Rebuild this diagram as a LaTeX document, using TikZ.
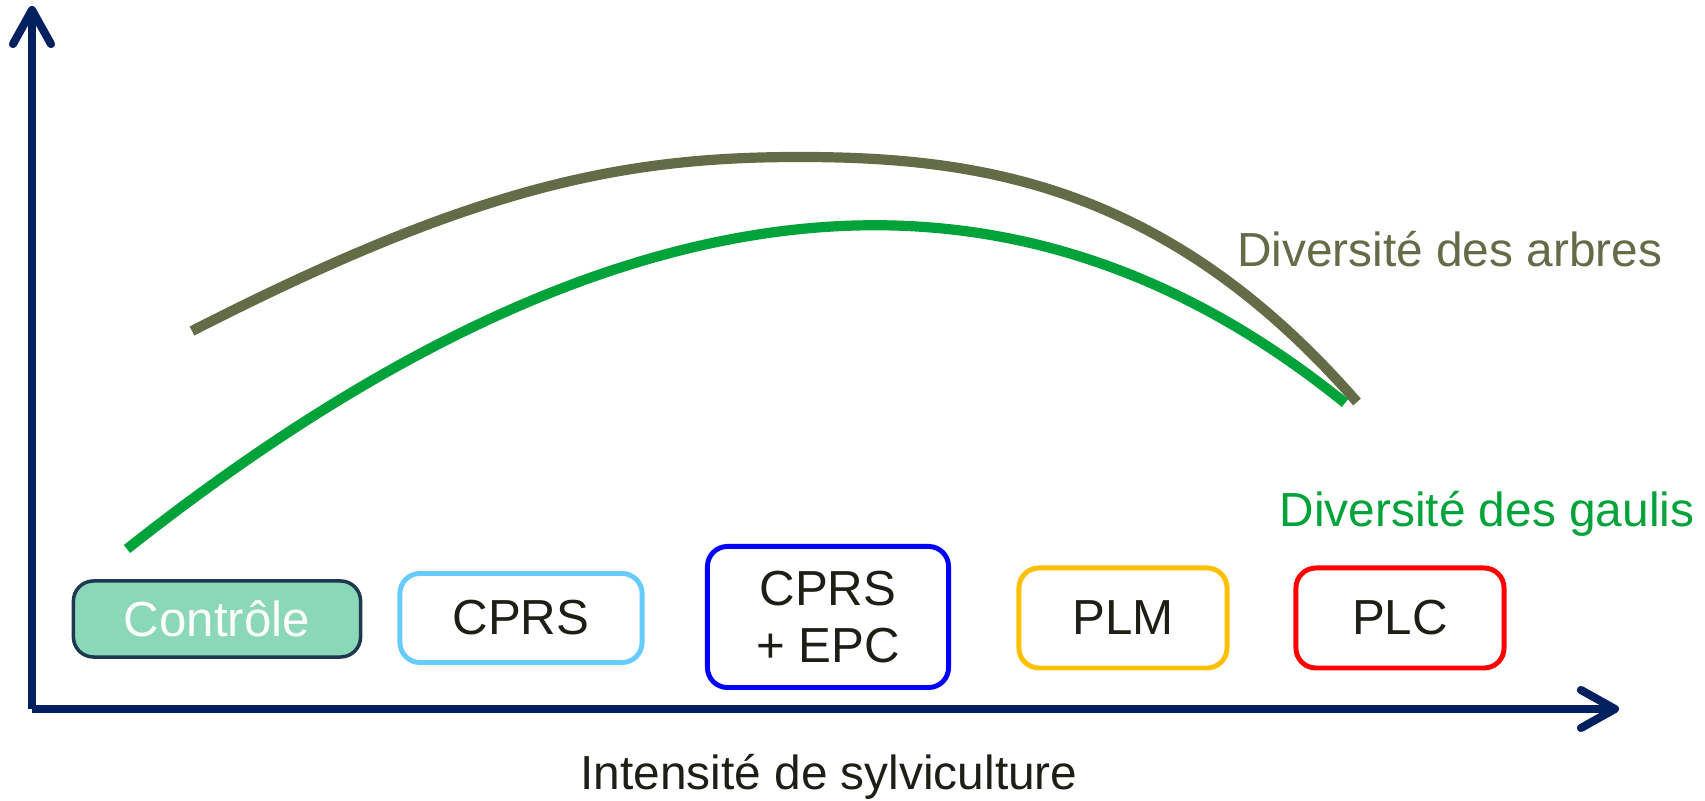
\documentclass[tikz,border=0pt]{standalone}
\usepackage{fontspec}
\setmainfont{Liberation Sans}
\usetikzlibrary{arrows.meta}
\usepackage{xcolor}

\definecolor{axisblue}{HTML}{002060}
\definecolor{olive}{HTML}{646B47}
\definecolor{gaulis}{HTML}{00A33A}
\definecolor{ctrlfill}{HTML}{8BD8B9}
\definecolor{ctrldraw}{HTML}{1F3852}
\definecolor{lightblue}{HTML}{66CCFF}
\definecolor{gold}{HTML}{FFC000}
\definecolor{ink}{HTML}{1E1E16}

\begin{document}
\begin{tikzpicture}[x=0.01cm, y=-0.01cm,
    axis/.style={axisblue, line width=2.3pt, -{Straight Barb[length=3.4mm, width=3.8mm, round]}},
    curve/.style={line width=2.9pt},
    treat/.style={rounded corners=0.2cm, line width=1.4pt, fill=white, text=ink,
      font=\fontsize{14}{16}\selectfont, align=center, inner sep=0pt},
    lbl/.style={inner sep=0pt, font=\fontsize{13.6}{16}\selectfont}]

      \useasboundingbox (0, 0) rectangle (1705, 801);

      \coordinate (o) at (32, 709);
      \coordinate (ytip) at (32, 6);
      \coordinate (xtip) at (1619, 709);
      \draw[axis] (o) -- (ytip);
      \draw[axis] (o) -- (xtip);
      \node[lbl, text=ink, anchor=base] (xlabel) at (829, 790) {Intensité de sylviculture};

      % courbes
      \draw[curve, olive] (192, 331) .. controls (472, 188) and (619, 157) .. (799, 157)
        .. controls (979, 157) and (1167, 184) .. (1357, 402);
      \draw[curve, gaulis] (127, 549) .. controls (647, 138) and (1035, 152) .. (1345, 403);

      \node[lbl, text=olive, anchor=base east] (arbres) at (1663, 267) {Diversité des arbres};
      \node[lbl, text=gaulis, anchor=base east] (gaulislbl) at (1695, 527) {Diversité des gaulis};

      % traitements
      \node[treat, draw=ctrldraw, fill=ctrlfill, text=white, line width=1pt, minimum width=2.87cm, minimum height=0.76cm] (ctrl) at (217, 619) {Contrôle};
      \node[treat, draw=lightblue, minimum width=2.42cm, minimum height=0.89cm] (cprs) at (521, 618) {CPRS};
      \node[treat, draw=blue, minimum width=2.41cm, minimum height=1.41cm] (epc) at (828, 617) {CPRS\\+ EPC};
      \node[treat, draw=gold, minimum width=2.08cm, minimum height=1.0cm] (plm) at (1123, 618) {PLM};
      \node[treat, draw=red, minimum width=2.08cm, minimum height=1.0cm] (plc) at (1400, 618) {PLC};

    \end{tikzpicture}
\end{document}
